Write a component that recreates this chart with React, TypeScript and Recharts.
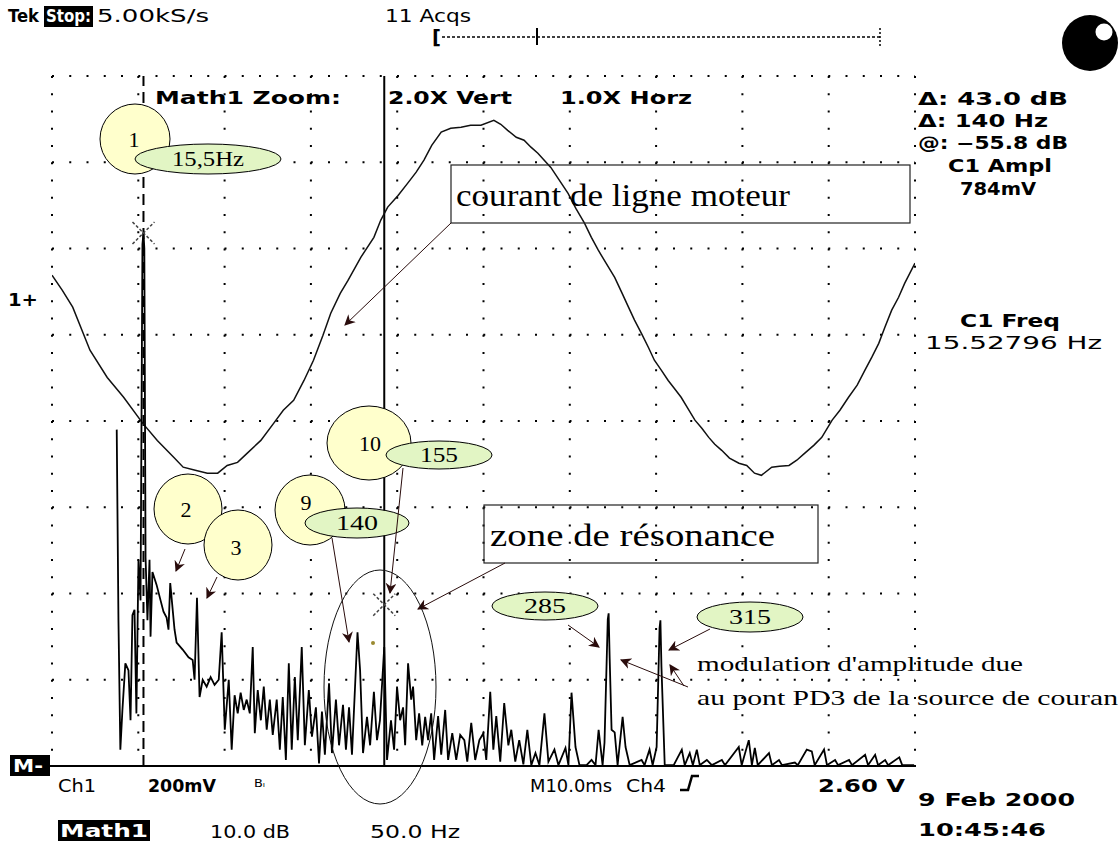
import { LineChart, Line, XAxis, YAxis, CartesianGrid, ReferenceLine, ReferenceDot } from 'recharts';

const W = 1119;
const H = 843;

// Math1 = FFT of Ch1: [frequency Hz, level dB]
const SPECTRUM: [number, number][] = [
  [0, -35.5], [1.0, -57.6], [2.1, -72.6], [3.3, -68.0], [5.0, -62.6], [6.8, -63.4], [8.0, -69.2],
  [9.1, -57.0], [10.3, -56.4], [11.4, -68.4], [12.6, -50.6], [13.8, -55.3], [14.9, -14.0], [15.5, -12.7],
  [16.0, -14.5], [16.7, -50.3], [17.8, -57.6], [19.0, -50.6], [19.6, -59.5], [20.7, -52.0], [23.1, -53.5],
  [25.4, -55.3], [27.1, -56.6], [28.9, -57.3], [30.0, -58.7], [31.0, -53.3], [33.5, -58.7], [34.7, -60.2],
  [38.2, -61.0], [41.6, -61.9], [44.0, -62.2], [45.1, -64.5], [46.5, -55.0], [48.0, -66.5], [49.8, -64.5],
  [52.1, -65.3], [54.4, -64.2], [56.7, -65.1], [59.1, -64.5], [60.8, -59.0], [62.6, -70.3], [64.9, -64.5],
  [66.6, -72.6], [68.3, -66.3], [70.1, -68.4], [71.8, -66.0], [73.6, -68.0], [75.3, -66.8], [77.1, -68.4],
  [78.8, -60.7], [80.0, -70.7], [81.7, -65.7], [83.5, -69.2], [85.2, -65.3], [86.9, -70.3], [88.7, -66.8],
  [90.4, -70.9], [92.7, -66.8], [94.5, -72.6], [96.2, -66.5], [98.0, -73.8], [99.7, -62.6], [101.4, -72.6],
  [103.2, -64.2], [104.9, -71.5], [107.2, -60.7], [109.0, -72.1], [111.3, -65.7], [113.1, -71.1],
  [115.4, -67.7], [117.2, -74.2], [118.9, -68.2], [120.6, -73.2], [123.0, -64.9], [124.7, -73.0],
  [127.0, -66.8], [128.8, -72.1], [131.1, -67.4], [132.8, -72.6], [134.6, -67.7], [136.3, -73.2],
  [139.5, -59.0], [141.0, -63.4], [142.7, -73.0], [145.0, -68.8], [146.8, -72.1], [149.0, -65.9],
  [150.8, -71.5], [152.5, -69.2], [155.0, -60.7], [156.6, -73.8], [158.9, -69.2], [160.7, -72.6],
  [162.4, -65.3], [164.2, -69.2], [165.9, -67.7], [167.1, -72.1], [168.8, -62.6], [170.6, -66.8],
  [171.7, -65.3], [173.5, -71.5], [175.2, -68.4], [177.0, -72.1], [178.7, -68.8], [180.4, -71.5],
  [182.2, -68.4], [183.9, -73.8], [186.2, -68.7], [188.0, -73.2], [190.3, -68.0], [192.0, -73.8],
  [194.4, -70.7], [196.7, -73.8], [199.0, -70.9], [201.4, -71.5], [203.1, -74.0], [205.4, -69.5],
  [207.7, -73.8], [210.1, -71.5], [212.4, -70.7], [214.1, -73.8], [216.4, -65.9], [218.2, -72.6],
  [219.9, -68.7], [222.2, -74.0], [224.5, -67.2], [226.9, -72.1], [228.6, -70.3], [230.9, -74.0],
  [233.2, -71.5], [235.6, -74.3], [237.9, -70.3], [240.2, -74.4], [242.6, -73.0], [244.9, -74.4],
  [247.8, -68.4], [250.1, -74.0], [253.6, -72.6], [255.9, -74.4], [260.0, -72.4], [261.7, -74.4],
  [263.5, -66.0], [265.8, -72.3], [268.1, -74.4], [272.2, -74.4], [275.1, -73.8], [277.4, -74.4],
  [279.2, -70.3], [281.5, -74.4], [282.6, -71.8], [284.5, -57.5], [285.0, -56.8], [285.6, -62.0],
  [286.7, -70.3], [288.5, -70.6], [290.2, -74.4], [293.1, -68.8], [294.8, -72.3], [297.2, -74.4],
  [304.1, -73.8], [305.8, -74.4], [308.7, -72.6], [310.5, -74.4], [312.8, -72.3], [314.5, -58.5],
  [315.0, -57.6], [315.6, -63.0], [317.5, -74.4], [322.7, -74.4], [327.4, -72.6], [329.1, -74.4],
  [332.0, -73.0], [333.8, -74.4], [336.1, -72.6], [337.8, -74.4], [341.9, -73.8], [344.8, -74.4],
  [350.6, -73.8], [352.4, -74.4], [360.4, -72.3], [362.1, -74.4], [366.2, -71.5], [368.0, -74.4],
  [369.7, -72.4], [371.4, -74.4], [377.9, -73.0], [379.6, -74.4], [383.7, -73.8], [385.4, -74.4],
  [392.9, -74.1], [394.6, -74.4], [399.8, -72.6], [402.7, -72.8], [404.4, -74.4], [409.8, -72.6],
  [411.5, -74.4], [416.2, -73.8], [417.9, -74.4], [424.3, -73.8], [426.0, -74.4], [433.6, -73.2],
  [435.3, -74.4], [439.4, -73.2], [441.1, -74.4], [445.2, -73.8], [446.9, -74.4], [453.4, -73.5],
  [455.1, -74.4], [462.0, -74.4],
];

// Ch1 motor line current: [time ms, mV]
const COURANT: [number, number][] = [
  [0, 58], [1.2, 23], [2.4, -16], [4.4, -116], [6.4, -179], [8.3, -225], [10.5, -285], [12.2, -325],
  [14.1, -364], [15.2, -387], [16.6, -394], [18.0, -401], [19.2, -401], [20.3, -383], [21.5, -376],
  [22.6, -355], [24.2, -325], [25.7, -285], [26.8, -255], [28.0, -232], [29.2, -186], [30.3, -139],
  [31.4, -81], [32.3, -30], [33.4, 16], [34.3, 46], [35.8, 100], [37.3, 146], [38.1, 186], [38.9, 216],
  [40.1, 243], [41.2, 271], [42.2, 297], [43.1, 325], [44.0, 359], [45.1, 390], [46.2, 399],
  [47.4, 401], [48.5, 406], [49.7, 406], [51.2, 417], [52.0, 408], [52.8, 394], [53.8, 378],
  [54.7, 371], [55.5, 355], [56.3, 341], [57.8, 308], [58.8, 278], [59.8, 248], [60.7, 213],
  [61.7, 179], [62.5, 146], [63.3, 116], [64.2, 86], [65.2, 53], [66.0, 19], [66.8, -16], [67.5, -46],
  [68.3, -77], [69.1, -109], [69.8, -139], [70.6, -162], [71.4, -186], [72.1, -204], [72.9, -225],
  [73.8, -255], [74.5, -278], [75.3, -297], [76.1, -318], [76.8, -334], [77.6, -348], [78.5, -366],
  [79.6, -378], [80.5, -383], [81.4, -401], [82.2, -406], [83.4, -387], [84.3, -385], [85.4, -383],
  [86.3, -371], [87.2, -355], [88.3, -336], [89.2, -318], [90.4, -278], [91.3, -255], [92.3, -225],
  [93.3, -197], [94.2, -162], [95.0, -132], [95.8, -100], [96.5, -63], [97.3, -23], [98.1, 7],
  [98.8, 39], [100, 86],
];

// cursor pair (paired cursors on Math1)
const CURSOR_HZ = [15.5, 155];
const CURSOR_DB = [-12.7, -55.8];

// graticule: 10 x 8 divisions
const DIV_X = [0, 1, 2, 3, 4, 5, 6, 7, 8, 9, 10];
const DIV_Y = [0, 1, 2, 3, 4, 5, 6, 7, 8];

const READOUTS = ['Δ: 43.0 dB', 'Δ: 140 Hz', '@: −55.8 dB'];

const spectrumRows = SPECTRUM.map(([hz, db]) => ({ hz, db }));
const courantRows = COURANT.map(([ms, mv]) => ({ ms, mv }));

const TEK = 'DejaVu Sans, Verdana, sans-serif';
const SERIF = 'Liberation Serif, Times New Roman, serif';

function Tek({ x, y, w, children, size = 17, weight = 700, fill = '#000' }: any) {
  return (
    <text x={x} y={y} fontFamily={TEK} fontSize={size} fontWeight={weight} fill={fill}
      textLength={w} lengthAdjust="spacingAndGlyphs">{children}</text>
  );
}

function Serif({ x, y, w, children, size = 21 }: any) {
  return (
    <text x={x} y={y} fontFamily={SERIF} fontSize={size} fill="#000"
      textLength={w} lengthAdjust="spacingAndGlyphs">{children}</text>
  );
}

function CursorX(props: any) {
  const { cx, cy } = props;
  const r = 11;
  return (
    <g stroke="#444" strokeWidth={1.5} strokeDasharray="3 2">
      <line x1={cx - r} y1={cy - r} x2={cx + r} y2={cy + r} />
      <line x1={cx - r} y1={cy + r} x2={cx + r} y2={cy - r} />
    </g>
  );
}

const YELLOW = '#ffffcc';
const GREEN = '#e2f5c4';
const ARROW = '#2a0c0c';

function Bubble({ cx, cy, rx, ry, label, lx, ly }: any) {
  return (
    <g>
      <ellipse cx={cx} cy={cy} rx={rx} ry={ry} fill={YELLOW} stroke="#000" strokeWidth={1} />
      <text x={lx} y={ly} fontFamily={SERIF} fontSize={22} textAnchor="middle">{label}</text>
    </g>
  );
}

function Tag({ cx, cy, rx, ry, label, w }: any) {
  return (
    <g>
      <ellipse cx={cx} cy={cy} rx={rx} ry={ry} fill={GREEN} stroke="#000" strokeWidth={1} />
      <text x={cx} y={cy + 7} fontFamily={SERIF} fontSize={21} textAnchor="middle"
        textLength={w} lengthAdjust="spacingAndGlyphs">{label}</text>
    </g>
  );
}

function Arrow({ x1, y1, x2, y2 }: any) {
  return <line x1={x1} y1={y1} x2={x2} y2={y2} stroke={ARROW} strokeWidth={1} markerEnd="url(#ah)" />;
}

// graticule lines at every division
const vGrid = ({ offset }: any) => DIV_X.map((d) => offset.left + (d * offset.width) / 10);
const hGrid = ({ offset }: any) => DIV_Y.map((d) => offset.top + (d * offset.height) / 8);

export default function App() {
  return (
    <div style={{ position: 'relative', width: W, height: H, background: '#fff', overflow: 'hidden' }}>
      <style>{'body{margin:0;background:#fff}'}</style>
      <div style={{ position: 'absolute', left: 0, top: 0 }}>
        <LineChart width={W} height={H} margin={{ top: 76, right: 204, bottom: 77, left: 52 }}>
          <XAxis xAxisId="div" type="number" domain={[0, 10]} ticks={DIV_X} hide />
          <YAxis yAxisId="div" type="number" domain={[0, 8]} ticks={DIV_Y} hide />
          <XAxis xAxisId="hz" type="number" dataKey="hz" domain={[-37.5, 462.5]} allowDataOverflow hide />
          <YAxis yAxisId="db" type="number" domain={[-74.5, 5.5]} allowDataOverflow hide />
          <XAxis xAxisId="ms" type="number" dataKey="ms" domain={[0, 100]} allowDataOverflow hide />
          <YAxis yAxisId="mv" type="number" domain={[-1080, 520]} allowDataOverflow hide />
          <CartesianGrid xAxisId="div" yAxisId="div" stroke="#000" strokeWidth={2}
            strokeDasharray="2 15.25" verticalCoordinatesGenerator={vGrid}
            horizontalCoordinatesGenerator={hGrid} />
          <ReferenceLine xAxisId="div" yAxisId="div" x={10} stroke="#000" strokeWidth={2} />
          <ReferenceLine xAxisId="hz" yAxisId="db" x={CURSOR_HZ[0]} stroke="#000" strokeWidth={2}
            strokeDasharray="11 6" />
          <ReferenceLine xAxisId="hz" yAxisId="db" x={CURSOR_HZ[1]} stroke="#000" strokeWidth={2} />
          <Line data={courantRows} xAxisId="ms" yAxisId="mv" dataKey="mv" type="linear"
            stroke="#111" strokeWidth={1.5} dot={false} isAnimationActive={false} />
          <Line data={spectrumRows} xAxisId="hz" yAxisId="db" dataKey="db" type="linear"
            stroke="#000" strokeWidth={1.8} dot={false} isAnimationActive={false} />
          <ReferenceDot xAxisId="hz" yAxisId="db" x={CURSOR_HZ[0]} y={CURSOR_DB[0]} shape={CursorX} />
          <ReferenceDot xAxisId="hz" yAxisId="db" x={CURSOR_HZ[1]} y={CURSOR_DB[1]} shape={CursorX} />
        </LineChart>
      </div>

      <svg width={W} height={H} style={{ position: 'absolute', left: 0, top: 0, pointerEvents: 'none' }}>
        <defs>
          <marker id="ah" viewBox="0 0 10 10" refX="9" refY="5" markerWidth="11" markerHeight="11"
            orient="auto-start-reverse" markerUnits="userSpaceOnUse">
            <path d="M0,0 L10,5 L0,10 L3,5 z" fill={ARROW} />
          </marker>
        </defs>

        {/* scope header */}
        <Tek x={8} y={22} w={31} size={18}>Tek</Tek>
        <rect x={44} y={6} width={49} height={21} fill="#000" />
        <Tek x={46} y={22} w={45} size={18} fill="#fff">Stop:</Tek>
        <Tek x={97} y={22} w={112} size={18} weight={400}>5.00kS/s</Tek>
        <Tek x={385} y={22} w={86} size={18} weight={400}>11 Acqs</Tek>
        <Tek x={432} y={44} w={9} size={20}>[</Tek>
        <line x1={442} y1={37} x2={880} y2={37} stroke="#000" strokeWidth={1.5} strokeDasharray="3 2" />
        <line x1={537} y1={28} x2={537} y2={45} stroke="#000" strokeWidth={2} />
        <line x1={880} y1={28} x2={880} y2={46} stroke="#000" strokeWidth={1.5} strokeDasharray="2 2" />
        <circle cx={1090} cy={43} r={28} fill="#000" />
        <circle cx={1104} cy={32} r={8.5} fill="#fff" />

        <Tek x={155} y={104} w={186}>Math1 Zoom:</Tek>
        <Tek x={388} y={104} w={124}>2.0X Vert</Tek>
        <Tek x={560} y={104} w={132}>1.0X Horz</Tek>

        {READOUTS.map((t, i) => (
          <Tek key={t} x={918} y={105 + i * 22} w={i === 1 ? 130 : 150}>{t}</Tek>
        ))}
        <Tek x={948} y={172} w={104}>C1 Ampl</Tek>
        <Tek x={960} y={195} w={76}>784mV</Tek>
        <Tek x={960} y={327} w={100}>C1 Freq</Tek>
        <Tek x={925} y={349} w={177} weight={400}>15.52796 Hz</Tek>
        <Tek x={8} y={306} w={30} size={18}>1+</Tek>

        {/* bottom status */}
        <line x1={10} y1={766} x2={916} y2={766} stroke="#000" strokeWidth={2} />
        <rect x={10} y={755} width={40} height={21} fill="#000" />
        <Tek x={13} y={772} w={30} fill="#fff">M-</Tek>
        <Tek x={58} y={792} w={38} weight={400}>Ch1</Tek>
        <Tek x={148} y={792} w={68}>200mV</Tek>
        <Tek x={254} y={787} w={11} size={10} weight={400}>Bₗ</Tek>
        <Tek x={530} y={792} w={82} weight={400}>M10.0ms</Tek>
        <Tek x={626} y={792} w={40} weight={400}>Ch4</Tek>
        <path d="M680,790 L688,790 L692,776 L699,776" stroke="#000" strokeWidth={2.5} fill="none" />
        <Tek x={818} y={792} w={87}>2.60 V</Tek>
        <Tek x={918} y={806} w={157}>9 Feb 2000</Tek>
        <Tek x={918} y={836} w={128}>10:45:46</Tek>
        <rect x={58} y={820} width={92} height={21} fill="#000" />
        <Tek x={60} y={837} w={88} fill="#fff">Math1</Tek>
        <Tek x={210} y={838} w={80} weight={400}>10.0 dB</Tek>
        <Tek x={370} y={838} w={90} weight={400}>50.0 Hz</Tek>

        {/* annotations */}
        <Bubble cx={135} cy={139} rx={35} ry={35} label="1" lx={134} ly={147} />
        <Tag cx={208} cy={159} rx={73} ry={15} label="15,5Hz" w={72} />

        <rect x={451} y={165} width={459} height={58} fill="none" stroke="#222" strokeWidth={1.2} />
        <Serif x={456} y={206} w={334} size={31}>courant de ligne moteur</Serif>
        <Arrow x1={451} y1={223} x2={345} y2={325} />

        <Bubble cx={369} cy={443} rx={42} ry={37} label="10" lx={370} ly={451} />
        <Tag cx={439} cy={455} rx={53} ry={14} label="155" w={38} />
        <Bubble cx={188} cy={509} rx={34} ry={35} label="2" lx={186} ly={517} />
        <Bubble cx={238} cy={545} rx={34} ry={35} label="3" lx={236} ly={555} />
        <Bubble cx={310} cy={510} rx={35} ry={35} label="9" lx={306} ly={510} />
        <Tag cx={357} cy={523} rx={52} ry={15} label="140" w={42} />

        <Arrow x1={185} y1={549} x2={176} y2={571} />
        <Arrow x1={217} y1={577} x2={207} y2={598} />
        <Arrow x1={332} y1={538} x2={349} y2={642} />
        <Arrow x1={403} y1={468} x2={390} y2={593} />

        <rect x={484} y={505} width={334} height={58} fill="none" stroke="#222" strokeWidth={1.2} />
        <Serif x={490} y={546} w={285} size={31}>zone de résonance</Serif>
        <Arrow x1={505} y1={563} x2={418} y2={609} />
        <ellipse cx={380} cy={687} rx={56} ry={117} fill="none" stroke="#111" strokeWidth={1} />
        <circle cx={373} cy={643} r={2} fill="#9a8a30" />

        <Tag cx={545} cy={606} rx={53} ry={14} label="285" w={42} />
        <Arrow x1={568} y1={625} x2={599} y2={647} />
        <Tag cx={750} cy={617} rx={53} ry={15} label="315" w={42} />
        <Arrow x1={710} y1={629} x2={669} y2={650} />

        <Serif x={697} y={671} w={326}>modulation d'amplitude due</Serif>
        <Serif x={697} y={705} w={421}>au pont PD3 de la source de couran</Serif>
        <Arrow x1={688} y1={687} x2={621} y2={660} />
        <Arrow x1={684} y1={686} x2={670} y2={665} />
      </svg>
    </div>
  );
}
